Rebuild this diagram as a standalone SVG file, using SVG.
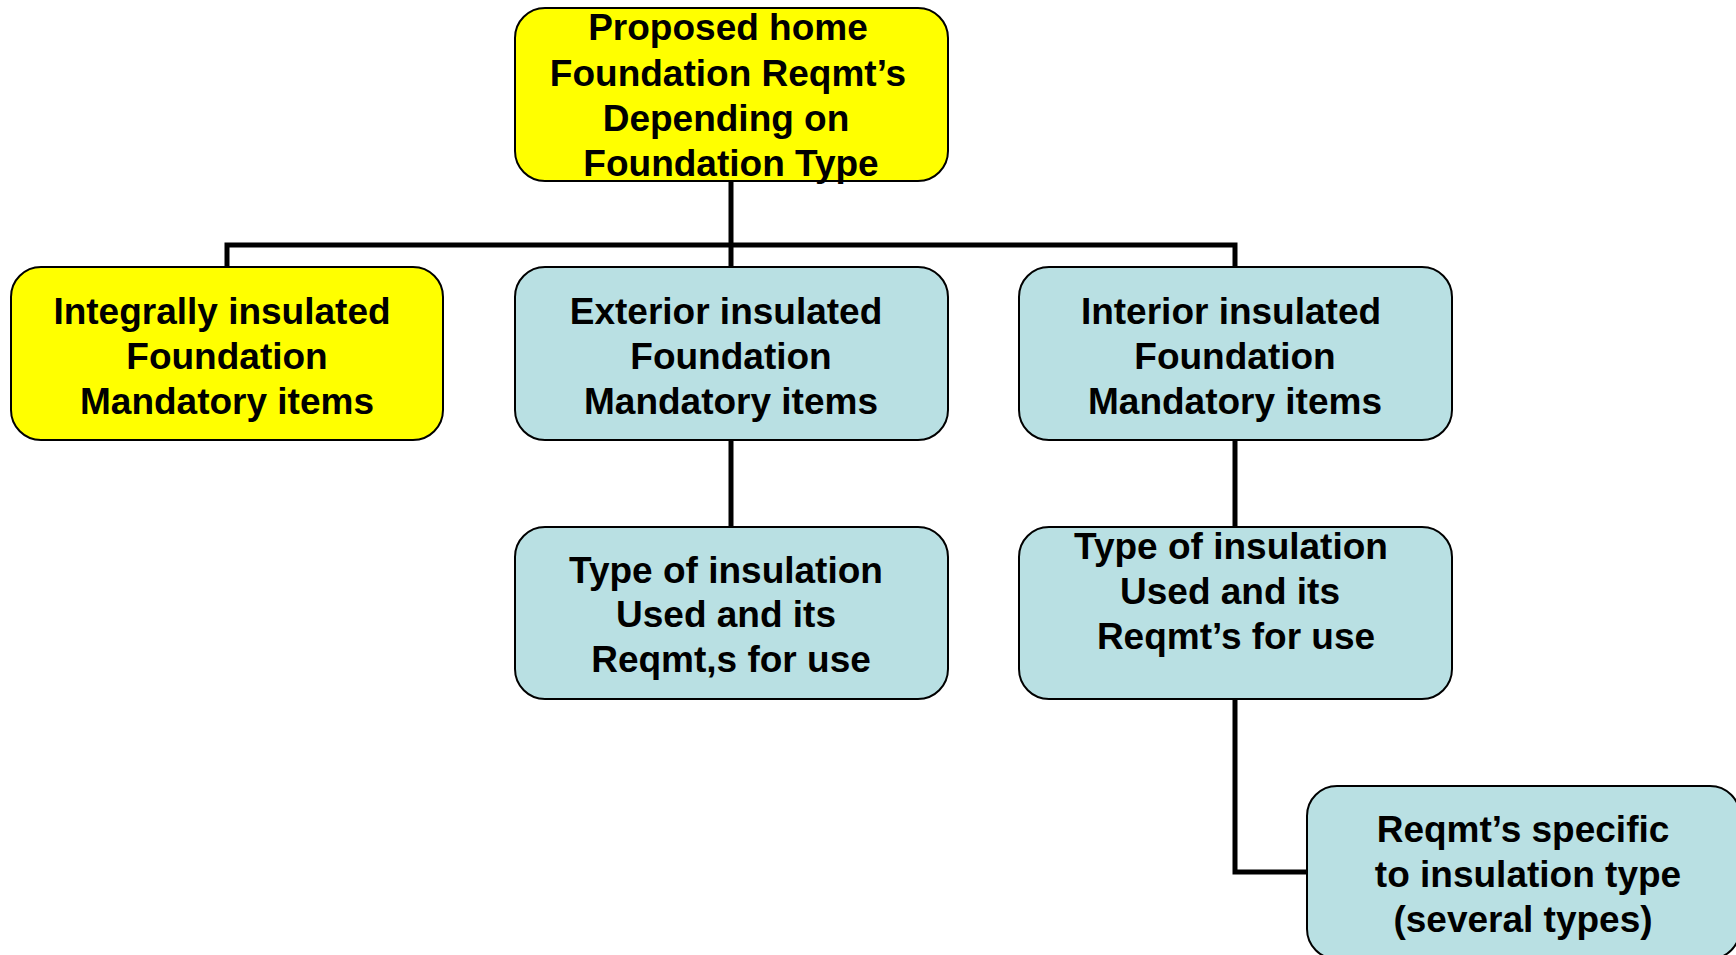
<svg xmlns="http://www.w3.org/2000/svg" width="1736" height="955" viewBox="0 0 1736 955">
<style>
.box{stroke:#000;stroke-width:2}
.y{fill:#FFFF00}
.b{fill:#B9E0E3}
.t{font-family:"Liberation Sans",Arial,sans-serif;font-weight:bold;font-size:37px;fill:#000;text-anchor:middle}
.c{fill:none;stroke:#000;stroke-width:5}
</style>
<rect width="1736" height="955" fill="#fff"/>
<g id="connectors">
<path class="c" d="M731,181 V267"/>
<path class="c" d="M227,267 V245 H1235 V267"/>
<path class="c" d="M731,440 V527"/>
<path class="c" d="M1235,440 V527"/>
<path class="c" d="M1235,698 V872 H1307"/>
</g>
<g id="root">
<rect class="box y" x="515" y="8" width="433" height="173" rx="30"/>
<text class="t" x="728" y="40">Proposed home</text>
<text class="t" x="728" y="86">Foundation Reqmt’s</text>
<text class="t" x="726" y="131">Depending on</text>
<text class="t" x="731" y="176">Foundation Type</text>
</g>
<g id="integral">
<rect class="box y" x="11" y="267" width="432" height="173" rx="30"/>
<text class="t" x="222" y="324">Integrally insulated</text>
<text class="t" x="227" y="369">Foundation</text>
<text class="t" x="227" y="414">Mandatory items</text>
</g>
<g id="exterior">
<rect class="box b" x="515" y="267" width="433" height="173" rx="30"/>
<text class="t" x="726" y="324">Exterior insulated</text>
<text class="t" x="731" y="369">Foundation</text>
<text class="t" x="731" y="414">Mandatory items</text>
</g>
<g id="interior">
<rect class="box b" x="1019" y="267" width="433" height="173" rx="30"/>
<text class="t" x="1231" y="324">Interior insulated</text>
<text class="t" x="1235" y="369">Foundation</text>
<text class="t" x="1235" y="414">Mandatory items</text>
</g>
<g id="ext-type">
<rect class="box b" x="515" y="527" width="433" height="172" rx="30"/>
<text class="t" x="726" y="583">Type of insulation</text>
<text class="t" x="726" y="627">Used and its</text>
<text class="t" x="731" y="672">Reqmt,s for use</text>
</g>
<g id="int-type">
<rect class="box b" x="1019" y="527" width="433" height="172" rx="30"/>
<text class="t" x="1231" y="559">Type of insulation</text>
<text class="t" x="1230" y="604">Used and its</text>
<text class="t" x="1236" y="649">Reqmt’s for use</text>
</g>
<g id="specific">
<rect class="box b" x="1307" y="786" width="433" height="173" rx="30"/>
<text class="t" x="1523" y="842">Reqmt’s specific</text>
<text class="t" x="1528" y="887">to insulation type</text>
<text class="t" x="1523" y="932">(several types)</text>
</g>
</svg>
